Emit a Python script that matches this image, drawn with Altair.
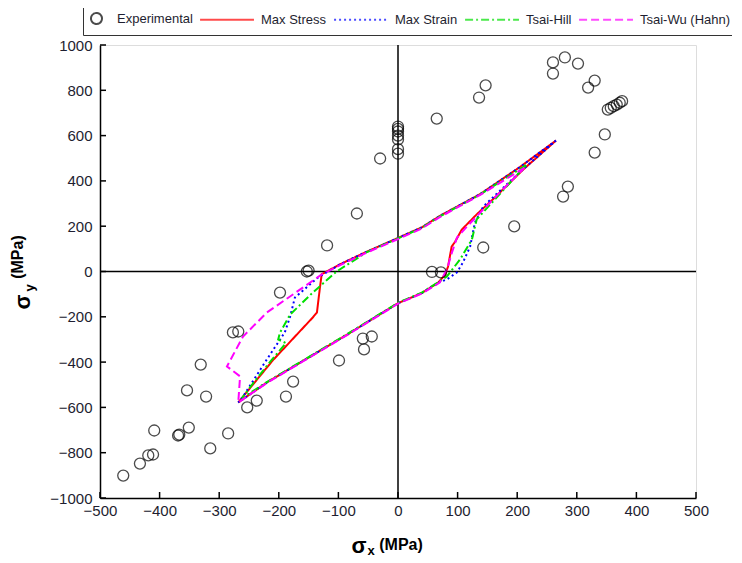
import altair as alt
import pandas as pd

# ---------------- data ----------------
series_names = ["Experimental", "Max Stress", "Max Strain", "Tsai-Hill", "Tsai-Wu (Hahn)"]
series_colors = ["#000000", "#ff0000", "#0000ff", "#00e000", "#ff00ff"]

exp_x = [-461, -433, -419, -411, -409, -369, -367, -351, -354, -331, -322, -315, -285,
         -277, -268, -253, -237, -198, -188, -176, -153, -150, -119, -99, -69, -59, -44,
         -57, -30, 0, 0, 0, 0, 0, 0, 0, 57, 72, 65, 143, 195, 136, 147, 260, 280, 302,
         260, 330, 319, 347, 330, 285, 277, 352, 357, 362, 367, 372, 376]
exp_y = [-901, -848, -812, -808, -702, -724, -720, -689, -525, -411, -552, -781, -715,
         -269, -265, -600, -570, -93, -552, -486, 0, 4, 115, -393, 256, -296, -287,
         -344, 499, 520, 540, 583, 600, 618, 630, 640, -2, -4, 675, 106, 199, 768, 822,
         923, 945, 918, 874, 843, 812, 605, 525, 375, 331, 715, 722, 730, 737, 745, 752]

# Max Stress
ms_x = [265, 205, 138, 70, 40, 0, -52, -97, -128, -131, -136, -143, -210, -268, -220,
        -164, -80, 0, 40, 67, 79, 84, 90, 96, 107, 132, 159, 210, 265]
ms_y = [578, 462, 342, 245, 195, 148, 88, 32, -12, -71, -181, -203, -392, -578, -490,
        -402, -270, -140, -95, -50, -15, 22, 110, 132, 185, 252, 318, 450, 578]
# Max Strain
mn_x = [265, 205, 138, 70, 40, 0, -52, -97, -134, -173, -181, -190, -220, -260, -268,
        -220, -164, -80, 0, 40, 67, 82, 99, 109, 121, 129, 143, 205, 265]
mn_y = [578, 462, 342, 245, 195, 148, 88, 32, -26, -115, -199, -269, -388, -552, -578,
        -490, -402, -270, -140, -95, -50, -35, -4, 40, 110, 216, 287, 440, 578]
# Tsai-Hill
th_x = [215, 138, 70, 40, 0, -52, -103, -143, -181, -198, -201, -188, -215, -245, -262,
        -220, -164, -80, 0, 40, 67, 82, 104, 124, 132, 170, 215]
th_y = [470, 340, 243, 193, 146, 86, 0, -93, -190, -270, -300, -316, -400, -500, -560,
        -488, -400, -268, -138, -93, -48, -22, 53, 141, 230, 340, 470]
# Tsai-Wu (Hahn)
tw_x = [212, 138, 70, 40, 0, -52, -97, -128, -164, -220, -260, -287, -265, -268, -220,
        -164, -80, 0, 40, 70, 82, 91, 99, 116, 138, 175, 212]
tw_y = [458, 338, 240, 190, 143, 84, 28, -13, -79, -181, -287, -419, -463, -578, -492,
        -404, -272, -142, -97, -49, 9, 88, 150, 199, 260, 360, 458]

x_ticks = list(range(-500, 501, 100))
y_ticks = list(range(-1000, 1001, 200))
zero_line = [0]

# ---------------- tables ----------------
rows = []
for name, xs, ys in [("Max Stress", ms_x, ms_y), ("Max Strain", mn_x, mn_y),
                     ("Tsai-Hill", th_x, th_y), ("Tsai-Wu (Hahn)", tw_x, tw_y)]:
    for i, (a, b) in enumerate(zip(xs, ys)):
        rows.append({"series": name, "ord": i, "sx": a, "sy": b})
curves = pd.DataFrame(rows)
exp_df = pd.DataFrame({"series": ["Experimental"] * len(exp_x), "sx": exp_x, "sy": exp_y})

W, H = 596, 453
FONT = "Liberation Sans"

xscale = alt.Scale(domain=[-500, 500], nice=False, zero=False)
yscale = alt.Scale(domain=[-1000, 1000], nice=False, zero=False)
xaxis = alt.Axis(title=None, values=x_ticks, format="d", ticks=False, grid=False, labelFlush=False,
                 labelOverlap=False, labelPadding=5, labelFontSize=15, labelFont=FONT,
                 labelColor="#1e1e30", domainColor="#000000", domainWidth=1.5)
yaxis = alt.Axis(title=None, values=y_ticks, format="d", ticks=False, grid=False, labelFlush=False,
                 labelOverlap=False, labelPadding=8, labelFontSize=15, labelFont=FONT,
                 labelColor="#1e1e30", domainColor="#000000", domainWidth=1.5)

LINE = "M-7.35,0H2.45"
legend = alt.Legend(title=None, orient="none", legendX=-17, legendY=-40,
                    direction="horizontal", columns=5, strokeColor="#333333",
                    padding=7, symbolSize=121, symbolStrokeWidth=2,
                    labelFontSize=13, labelFont=FONT, labelColor="#1e1e30",
                    columnPadding=3, labelOffset=14)
color_scale = alt.Scale(domain=series_names, range=series_colors)
dash_scale = alt.Scale(domain=series_names, range=[[1, 0], [1, 0], [2, 3], [8, 3, 2, 3], [8, 4]])
shape_scale = alt.Scale(domain=series_names, range=["circle", LINE, LINE, LINE, LINE])

# zero lines
vline = alt.Chart(pd.DataFrame({"v": zero_line})).mark_rule(color="black", strokeWidth=1.5).encode(
    x=alt.X("v:Q", scale=xscale, axis=xaxis))
hline = alt.Chart(pd.DataFrame({"v": zero_line})).mark_rule(color="black", strokeWidth=1.5).encode(
    y=alt.Y("v:Q", scale=yscale, axis=yaxis))

# inward ticks
yt = alt.Chart(pd.DataFrame({"v": y_ticks})).mark_rule(color="black", strokeWidth=1.5).encode(
    y=alt.Y("v:Q", scale=yscale, axis=yaxis), x=alt.value(0), x2=alt.value(6))
xt = alt.Chart(pd.DataFrame({"v": x_ticks})).mark_rule(color="black", strokeWidth=1.5).encode(
    x=alt.X("v:Q", scale=xscale, axis=xaxis), y=alt.value(H - 6), y2=alt.value(H))

lines = alt.Chart(curves).mark_line(strokeWidth=2).encode(
    x=alt.X("sx:Q", scale=xscale, axis=xaxis),
    y=alt.Y("sy:Q", scale=yscale, axis=yaxis),
    order="ord:Q",
    color=alt.Color("series:N", scale=color_scale, legend=legend),
    strokeDash=alt.StrokeDash("series:N", scale=dash_scale, legend=legend),
)

points = alt.Chart(exp_df).mark_point(filled=False, size=121, strokeWidth=1.3).encode(
    x=alt.X("sx:Q", scale=xscale, axis=xaxis),
    y=alt.Y("sy:Q", scale=yscale, axis=yaxis),
    color=alt.Color("series:N", scale=color_scale, legend=legend),
    shape=alt.Shape("series:N", scale=shape_scale, legend=legend),
)


def txt(t, xpx, ypx, size, angle=0):
    return alt.Chart(pd.DataFrame({"t": [t]})).mark_text(
        fontSize=size, fontWeight="bold", font=FONT, angle=angle, align="center",
        baseline="middle", color="black").encode(
        x=alt.value(xpx), y=alt.value(ypx), text="t:N")


titles = [
    txt("σ", 259, 501, 22), txt("x", 271, 506, 13), txt("(MPa)", 301, 500, 16),
    txt("σ", -77.5, 257, 22, 270), txt("y", -70, 243, 13, 270), txt("(MPa)", -82.5, 212, 16, 270),
]

chart = alt.layer(vline, hline, yt, xt, lines, points, *titles).properties(
    width=W, height=H,
    autosize=alt.AutoSizeParams(type="none"),
    padding={"left": 92, "top": 37, "right": 36, "bottom": 60},
).configure_view(stroke=None).configure(background="white")

chart.save("out.html", embed_options={"renderer": "svg", "actions": False})
